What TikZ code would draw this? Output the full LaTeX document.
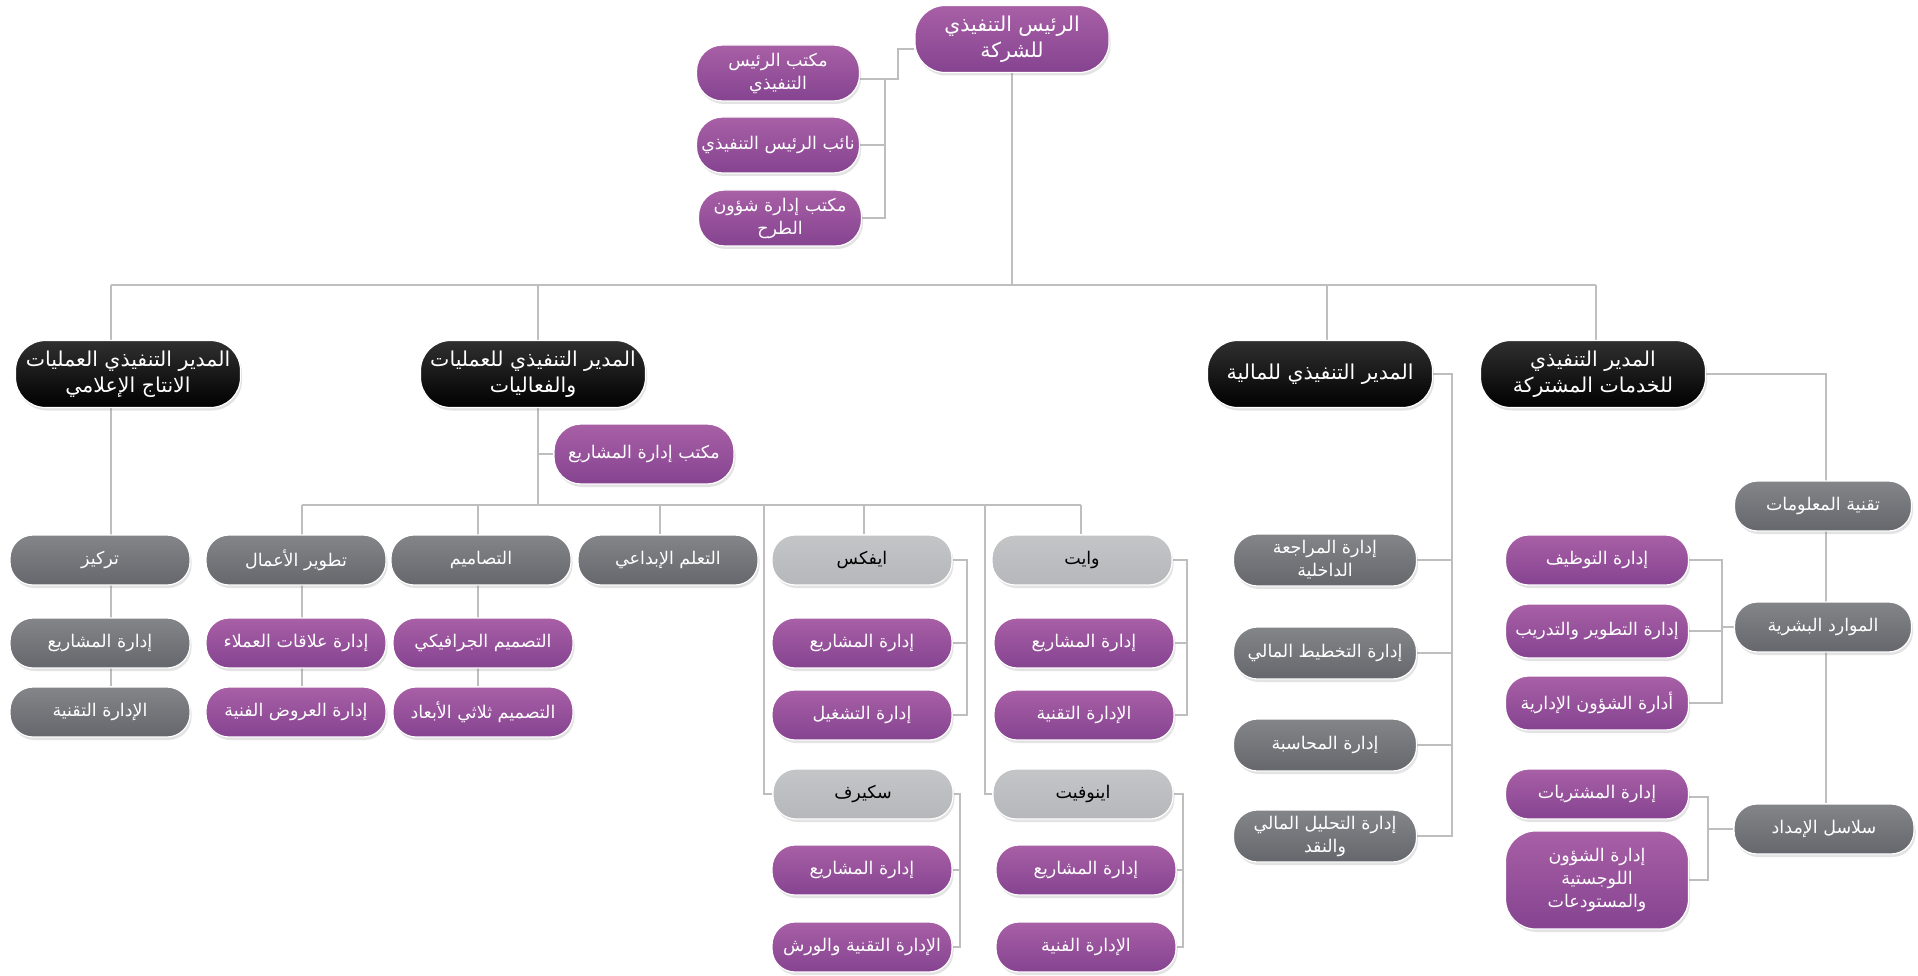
\documentclass[tikz,border=0pt]{standalone}
\usepackage{fontspec}
\newfontfamily\arabicfont[Script=Arabic]{DejaVu Sans}
\TeXXeTstate=1
\usetikzlibrary{shadows,backgrounds}
\definecolor{pTop}{RGB}{168,96,166}
\definecolor{pBot}{RGB}{133,67,144}
\definecolor{gTop}{RGB}{132,133,137}
\definecolor{gBot}{RGB}{102,103,108}
\definecolor{lTop}{RGB}{196,197,199}
\definecolor{lBot}{RGB}{182,183,186}
\definecolor{kTop}{RGB}{48,48,48}
\definecolor{lineC}{RGB}{190,190,190}
\newcommand{\artx}[1]{\beginR #1\endR}
\tikzset{
  basebox/.style={rectangle, draw=white, line width=1.2pt, align=center, inner sep=2pt,
    rounded corners=23pt, minimum width=180pt, minimum height=50pt,
    drop shadow={opacity=0.22, shadow xshift=1.5pt, shadow yshift=-3pt},
    font=\arabicfont\fontsize{17.5}{23}\selectfont},
  purplebox/.style={basebox, top color=pTop, bottom color=pBot, text=white},
  graybox/.style={basebox, top color=gTop, bottom color=gBot, text=white},
  lightbox/.style={basebox, top color=lTop, bottom color=lBot, text=black},
  blackbox/.style={basebox, top color=kTop, bottom color=black, text=white,
    minimum width=225pt, minimum height=67pt, rounded corners=30pt,
    font=\arabicfont\fontsize{20.5}{26}\selectfont},
  bigpurple/.style={purplebox, minimum width=194pt, minimum height=67pt, rounded corners=30pt,
    font=\arabicfont\fontsize{20.5}{26}\selectfont},
  offbox/.style={purplebox, minimum width=163pt, minimum height=56pt, rounded corners=26pt},
  finbox/.style={graybox, minimum width=183pt, minimum height=52pt, rounded corners=24pt},
  conn/.style={draw=lineC, line width=2pt},
}
\begin{document}
\begin{tikzpicture}[x=1pt,y=-1pt]
\useasboundingbox (0,0) rectangle (1918,976);
% ---------- top ----------
\node[bigpurple] (ceo) at (1012,39) {\artx{الرئيس التنفيذي}\\\artx{للشركة}};
\node[offbox] (off1) at (778,73) {\artx{مكتب الرئيس}\\\artx{التنفيذي}};
\node[offbox] (off2) at (778,145) {\artx{نائب الرئيس التنفيذي}};
\node[offbox] (off3) at (780,218) {\artx{مكتب إدارة شؤون}\\\artx{الطرح}};
% ---------- level 2 ----------
\node[blackbox] (media) at (128,374) {\artx{المدير التنفيذي العمليات}\\\artx{الانتاج الإعلامي}};
\node[blackbox] (ops) at (533,374) {\artx{المدير التنفيذي للعمليات}\\\artx{والفعاليات}};
\node[blackbox] (fin) at (1320,374) {\artx{المدير التنفيذي للمالية}};
\node[blackbox] (shared) at (1593,374) {\artx{المدير التنفيذي}\\\artx{للخدمات المشتركة}};
% ---------- operations ----------
\node[purplebox, minimum height=60pt, rounded corners=27pt] (pmo) at (644,454) {\artx{مكتب إدارة المشاريع}};
\node[graybox] (tarkeez) at (100,560) {\artx{تركيز}};
\node[graybox] (bizdev) at (296,560) {\artx{تطوير الأعمال}};
\node[graybox] (designs) at (481,560) {\artx{التصاميم}};
\node[graybox] (creative) at (668,560) {\artx{التعلم الإبداعي}};
\node[lightbox] (ifx) at (862,560) {\artx{ايفكس}};
\node[lightbox] (white) at (1082,560) {\artx{وايت}};
\node[graybox] (tpm) at (100,643) {\artx{إدارة المشاريع}};
\node[graybox] (ttech) at (100,712) {\artx{الإدارة التقنية}};
\node[purplebox] (bcrm) at (296,643) {\artx{إدارة علاقات العملاء}};
\node[purplebox] (bshows) at (296,712) {\artx{إدارة العروض الفنية}};
\node[purplebox] (dgraphic) at (483,643) {\artx{التصميم الجرافيكي}};
\node[purplebox] (dthree) at (483,712) {\artx{التصميم ثلاثي الأبعاد}};
\node[purplebox] (ifxpm) at (862,643) {\artx{إدارة المشاريع}};
\node[purplebox] (ifxops) at (862,715) {\artx{إدارة التشغيل}};
\node[lightbox] (skreef) at (863,794) {\artx{سكيرف}};
\node[purplebox] (skpm) at (862,870) {\artx{إدارة المشاريع}};
\node[purplebox] (sktech) at (862,947) {\artx{الإدارة التقنية والورش}};
\node[purplebox] (wpm) at (1084,643) {\artx{إدارة المشاريع}};
\node[purplebox] (wtech) at (1084,715) {\artx{الإدارة التقنية}};
\node[lightbox] (innov) at (1083,794) {\artx{اينوفيت}};
\node[purplebox] (inpm) at (1086,870) {\artx{إدارة المشاريع}};
\node[purplebox] (inart) at (1086,947) {\artx{الإدارة الفنية}};
% ---------- finance ----------
\node[finbox] (fa) at (1325,560) {\artx{إدارة المراجعة}\\\artx{الداخلية}};
\node[finbox] (fb) at (1325,653) {\artx{إدارة التخطيط المالي}};
\node[finbox] (fc) at (1325,745) {\artx{إدارة المحاسبة}};
\node[finbox] (fd) at (1325,836) {\artx{إدارة التحليل المالي}\\\artx{والنقد}};
% ---------- shared services ----------
\node[graybox, minimum width=177pt] (it) at (1823,506) {\artx{تقنية المعلومات}};
\node[graybox, minimum width=177pt] (hr) at (1823,627) {\artx{الموارد البشرية}};
\node[graybox, minimum width=180pt] (supply) at (1824,829) {\artx{سلاسل الإمداد}};
\node[purplebox, minimum width=183pt] (hra) at (1597,560) {\artx{إدارة التوظيف}};
\node[purplebox, minimum width=183pt, minimum height=54pt] (hrb) at (1597,631) {\artx{إدارة التطوير والتدريب}};
\node[purplebox, minimum width=183pt, minimum height=54pt] (hrc) at (1597,703) {\artx{أدارة الشؤون الإدارية}};
\node[purplebox, minimum width=183pt] (supa) at (1597,794) {\artx{إدارة المشتريات}};
\node[purplebox, minimum width=183pt, minimum height=98pt, rounded corners=30pt] (supb) at (1597,880) {\artx{إدارة الشؤون}\\\artx{اللوجستية}\\\artx{والمستودعات}};
% ---------- connectors ----------
\coordinate (tb) at (885,0);
\coordinate (tc) at (898,0);
\coordinate (busL) at (111,285);
\coordinate (busR) at (1596,285);
\coordinate (dops) at (538,285);
\coordinate (dfin) at (1327,285);
\coordinate (sbL) at (302,505);
\coordinate (sbR) at (1081,505);
\coordinate (s2) at (478,505);
\coordinate (s3) at (660,505);
\coordinate (s4) at (764,505);
\coordinate (s5) at (864,505);
\coordinate (s6) at (985,505);
\coordinate (xb1) at (967,0);
\coordinate (xb2) at (960,0);
\coordinate (xb3) at (1187,0);
\coordinate (xb4) at (1183,0);
\coordinate (xf) at (1452,0);
\coordinate (xs) at (1826,0);
\coordinate (xh) at (1722,0);
\coordinate (xp) at (1708,0);
\begin{pgfonlayer}{background}
\fill[white] (0,0) rectangle (1918,976);
% top
\draw[conn] ([yshift=-10pt]ceo.west) -| ([yshift=-6pt]off1.east -| tc) -- ([yshift=-6pt]off1.east);
\draw[conn] ([yshift=-6pt]off1.east -| tb) -- (off3.east -| tb) -- (off3.east);
\draw[conn] (off2.east) -- (off2.east -| tb);
% main bus
\draw[conn] (ceo.south) -- (ceo.south |- busL);
\draw[conn] (busL) -- (busR);
\draw[conn] (busL) -- (busL |- media.north);
\draw[conn] (dops) -- (dops |- ops.north);
\draw[conn] (dfin) -- (dfin |- fin.north);
\draw[conn] (busR) -- (busR |- shared.north);
% media
\draw[conn] (busL |- media.south) -- (busL |- ttech.north);
% operations
\draw[conn] (dops |- ops.south) -- (dops |- sbL);
\draw[conn] (pmo.west -| dops) -- (pmo.west);
\draw[conn] (sbL) -- (sbR);
\draw[conn] (sbL) -- (sbL |- bshows.north);
\draw[conn] (s2) -- (s2 |- dthree.north);
\draw[conn] (s3) -- (s3 |- creative.north);
\draw[conn] (s4) -- (s4 |- skreef.west) -- (skreef.west);
\draw[conn] (s5) -- (s5 |- ifx.north);
\draw[conn] (s6) -- (s6 |- innov.west) -- (innov.west);
\draw[conn] (sbR) -- (sbR |- white.north);
\draw[conn] (ifx.east) -- (ifx.east -| xb1) -- (ifxops.east -| xb1) -- (ifxops.east);
\draw[conn] (ifxpm.east) -- (ifxpm.east -| xb1);
\draw[conn] (skreef.east) -- (skreef.east -| xb2) -- (sktech.east -| xb2) -- (sktech.east);
\draw[conn] (skpm.east) -- (skpm.east -| xb2);
\draw[conn] (white.east) -- (white.east -| xb3) -- (wtech.east -| xb3) -- (wtech.east);
\draw[conn] (wpm.east) -- (wpm.east -| xb3);
\draw[conn] (innov.east) -- (innov.east -| xb4) -- (inart.east -| xb4) -- (inart.east);
\draw[conn] (inpm.east) -- (inpm.east -| xb4);
% finance
\draw[conn] (fin.east) -- (fin.east -| xf) -- (fd.east -| xf) -- (fd.east);
\draw[conn] (fa.east) -- (fa.east -| xf);
\draw[conn] (fb.east) -- (fb.east -| xf);
\draw[conn] (fc.east) -- (fc.east -| xf);
% shared services
\draw[conn] (shared.east) -- (shared.east -| xs) -- (xs |- supply.north);
\draw[conn] (hr.west) -- (hr.west -| xh);
\draw[conn] (hra.east) -- (hra.east -| xh) -- (hrc.east -| xh) -- (hrc.east);
\draw[conn] (hrb.east) -- (hrb.east -| xh);
\draw[conn] (supply.west) -- (supply.west -| xp);
\draw[conn] ([yshift=-3pt]supa.east) -- ([yshift=-3pt]supa.east -| xp) -- (supb.east -| xp) -- (supb.east);
\end{pgfonlayer}
\end{tikzpicture}
\end{document}
